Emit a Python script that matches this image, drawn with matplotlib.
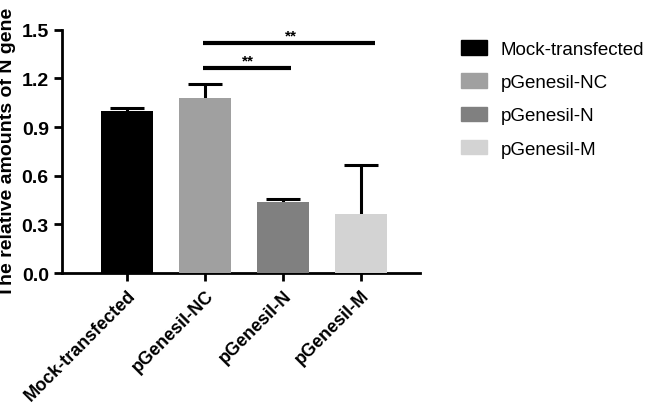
import matplotlib.pyplot as plt
from matplotlib.patches import Patch

plt.rcParams['font.family'] = ['Liberation Sans', 'DejaVu Sans']

# data
groups = ['Mock-transfected', 'pGenesil-NC', 'pGenesil-N', 'pGenesil-M']
means = [1.0, 1.08, 0.44, 0.365]
errs = [0.02, 0.085, 0.015, 0.30]
colors = ['#000000', '#a0a0a0', '#808080', '#d3d3d3']
yticks = [0.0, 0.3, 0.6, 0.9, 1.2, 1.5]

# significance brackets: (from, to, height, label)
sig = [(1, 2, 1.265, '**'), (1, 3, 1.42, '**')]

fig = plt.figure(figsize=(6.46, 4.06), dpi=100)
ax = fig.add_axes([0.096, 0.325, 0.554, 0.599])

x = list(range(len(groups)))
ax.bar(x, means, width=0.66, color=colors, zorder=3)
# symmetric bars drawn behind, so only the upper half shows
ax.errorbar(x, means, yerr=errs, fmt='none', ecolor='black',
            elinewidth=2.2, capsize=12, capthick=2.2, zorder=1)

for a, b, h, lab in sig:
    ax.plot([a - 0.03, b + 0.18 if b == 3 else b + 0.1], [h, h], color='black', lw=3,
            solid_capstyle='butt', clip_on=False)
    ax.text((a + b) / 2 + (0.05 if b == 2 else 0.1), h + 0.005, lab, ha='center',
            va='bottom', fontsize=11, fontweight='bold')

ax.set_xlim(-0.833, 3.756)
ax.set_ylim(0, 1.5)
ax.set_yticks(yticks)
ax.set_yticklabels(['%.1f' % v for v in yticks], fontsize=14, fontweight='bold')
ax.set_xticks(x)
ax.set_xticklabels(groups, rotation=45, ha='right', rotation_mode='anchor',
                   fontsize=13, fontweight='bold')
ax.set_ylabel('The relative amounts of N gene', fontsize=14, fontweight='bold', labelpad=4)

for s in ['top', 'right']:
    ax.spines[s].set_visible(False)
for s in ['left', 'bottom']:
    ax.spines[s].set_linewidth(2)
ax.tick_params(width=2, length=6)

handles = [Patch(color=c, label=g) for g, c in zip(groups, colors)]
fig.legend(handles=handles, loc='upper left', bbox_to_anchor=(0.688, 0.94),
           frameon=False, fontsize=13.5, handlelength=1.35, handleheight=0.8,
           labelspacing=0.83, handletextpad=0.75)

fig.savefig('out.png', dpi=100)
